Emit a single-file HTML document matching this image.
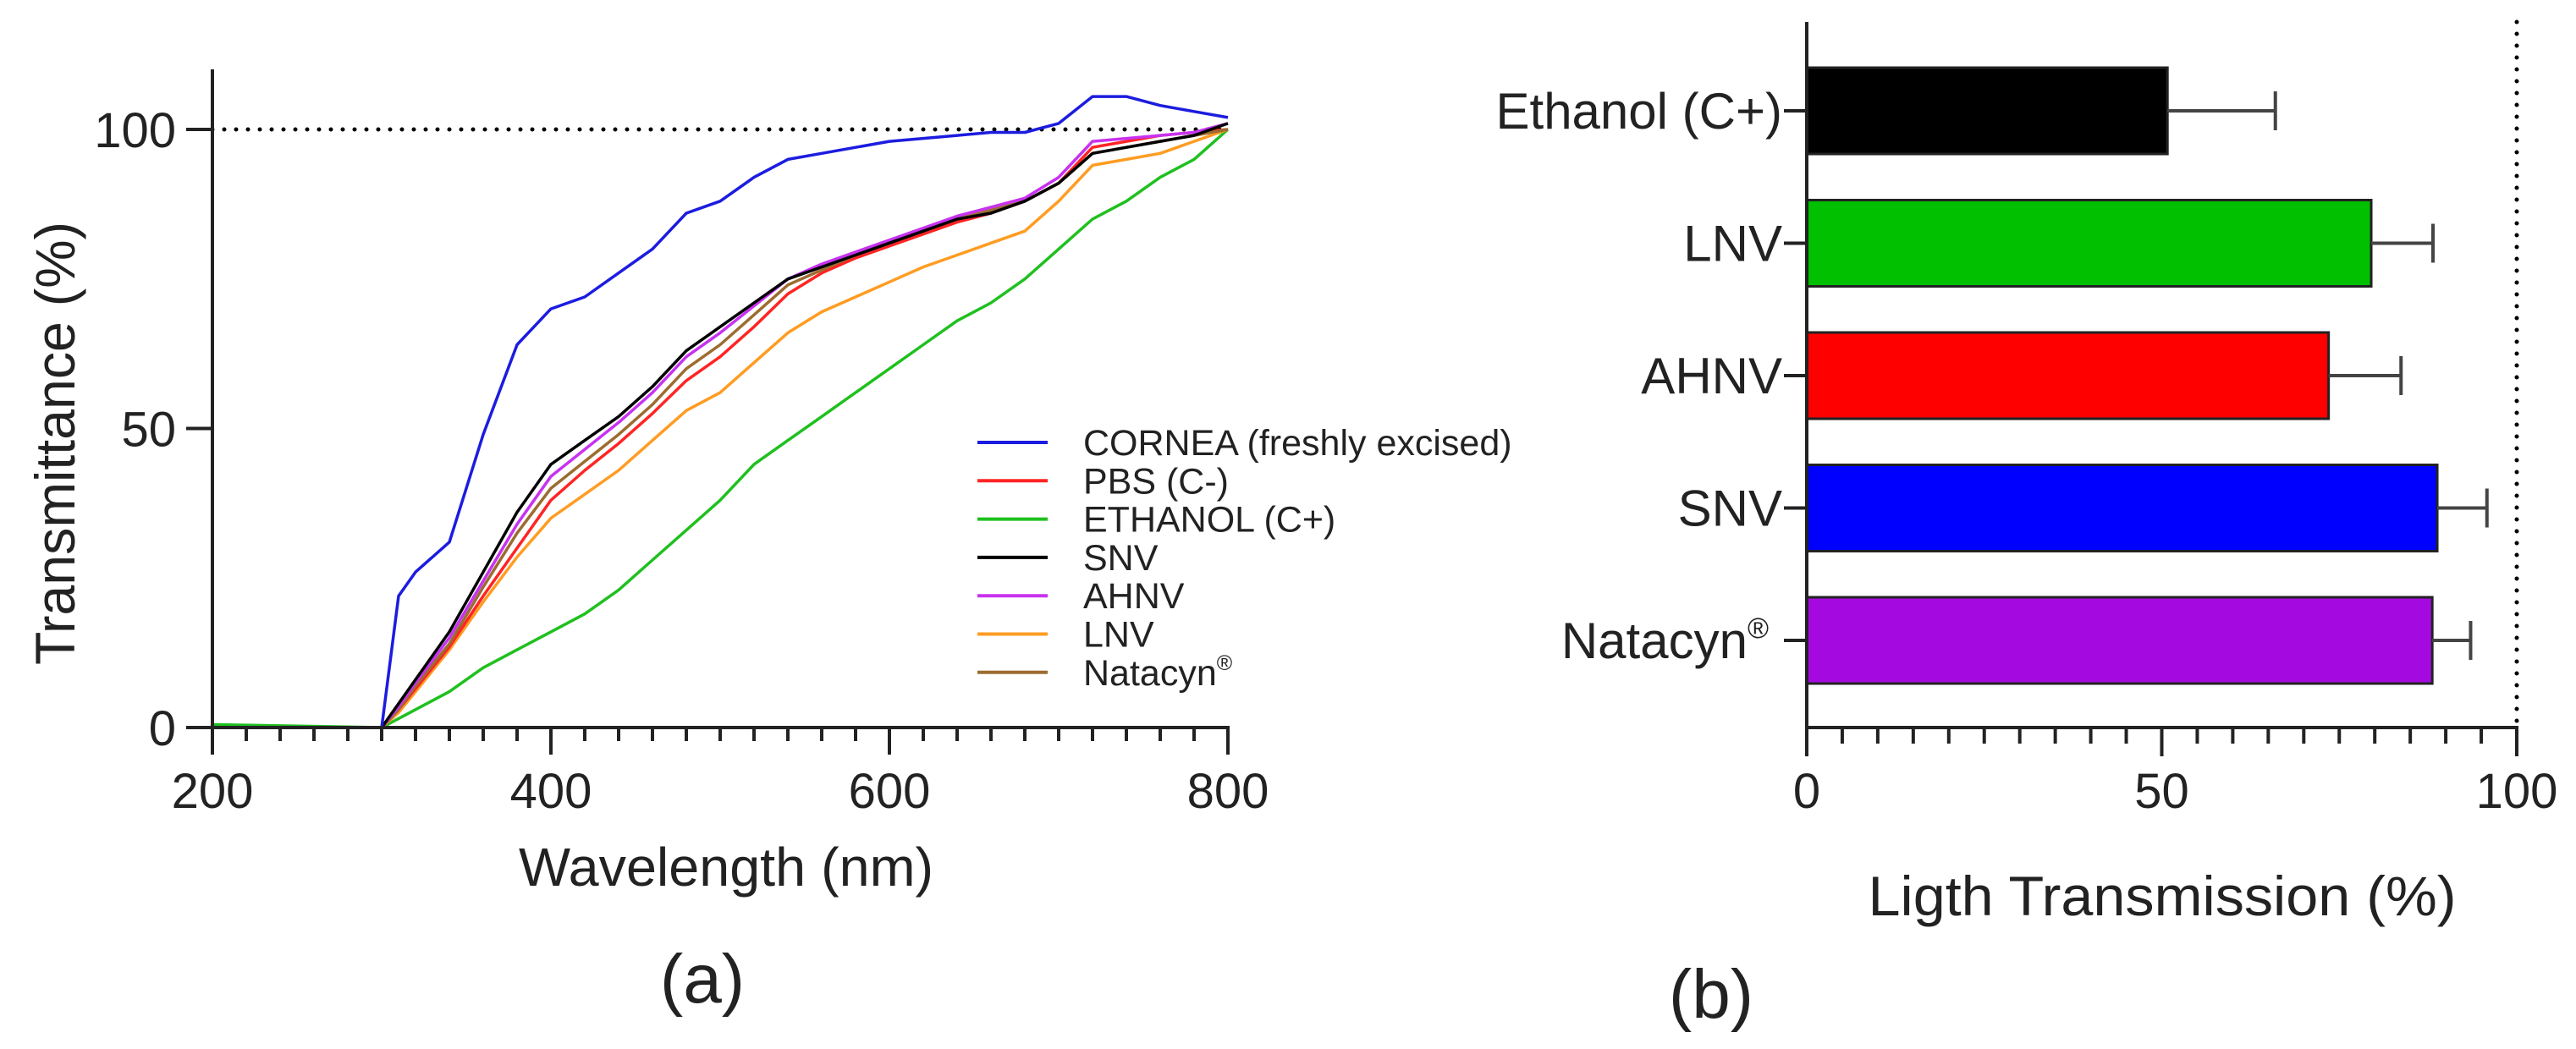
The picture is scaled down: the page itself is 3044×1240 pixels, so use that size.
<!DOCTYPE html>
<html><head><meta charset="utf-8"><style>
html,body{margin:0;padding:0;background:#fff;}
svg{display:block;font-family:"Liberation Sans",Arial,sans-serif;}
</style></head><body>
<svg id="fig" width="3044" height="1240" viewBox="0 0 3044 1240" xmlns="http://www.w3.org/2000/svg">
<g id="pa"></g>
<g id="pb"></g>
</svg>
<script>
// ---------- Panel (a) data ----------
const wavelengths = [200,300,310,320,340,360,380,400,420,440,460,480,500,520,540,560,580,600,620,640,660,680,700,720,740,760,780,800];
const seriesNames = ["CORNEA (freshly excised)","PBS (C-)","ETHANOL (C+)","SNV","AHNV","LNV","Natacyn"];
const corneaVals = [0,0,22,26,31,49,64,70,72,76,80,86,88,92,95,96,97,98,98.5,99,99.5,99.5,101,105.5,105.5,104,103,102];
const pbsVals    = [0,0,3,6.5,13.5,22,30,38,43,47.5,52.5,58,62,67,72.5,76,78.5,80.5,82.5,84.5,86,88,91,97,98,99,99.5,100];
const ethanolVals= [0.5,0,1.5,3,6,10,13,16,19,23,28,33,38,44,48,52,56,60,64,68,71,75,80,85,88,92,95,100];
const snvVals    = [0,0,4,8,16,26,36,44,48,52,57,63,67,71,75,77,79,81,83,85,86,88,91,96,97,98,99,101];
const ahnvVals   = [0,0,3.5,7.5,15,24.5,34,42,46.5,51,56,62,66,70.5,75,77.5,79.5,81.5,83.5,85.5,87,88.5,92,98,98.5,99,99.5,101];
const lnvVals    = [0,0,2.5,6,13,21,28.5,35,39,43,48,53,56,61,66,69.5,72,74.5,77,79,81,83,88,94,95,96,98,100];
const natacynVals= [0,0,3,7,14,23.5,32.5,40,44.5,49,54,60,64,69,74,76.5,79,81,83,85,86.5,88,91,96,97,98,99,100];
const xTickLabels = [200,400,600,800];
const yTickLabels = [0,50,100];
// ---------- Panel (b) data ----------
const barCategories = ["Ethanol (C+)","LNV","AHNV","SNV","Natacyn"];
const barMeans = [50.8,79.5,73.5,88.8,88.1];
const barErrors = [15.2,8.7,10.2,7.0,5.4];
const bTickLabels = [0,50,100];

const NS="http://www.w3.org/2000/svg";
function mk(parent,tag,attrs,text){const e=document.createElementNS(NS,tag);for(const k in attrs)e.setAttribute(k,attrs[k]);if(text!==undefined)e.textContent=text;parent.appendChild(e);return e;}

// ----- Panel a axes -----
const pa=document.getElementById('pa');
const ax=w=>251+(w-200)*2.0;
const ay=v=>860-v*7.07;
let e=mk(pa,'line',{x1:ax(200),x2:ax(800),y1:ay(100),y2:ay(100),stroke:'#000','stroke-width':5,'stroke-dasharray':'0 14','stroke-linecap':'round'});


const colors={"CORNEA (freshly excised)":"#1c1ce0","PBS (C-)":"#ff2424","ETHANOL (C+)":"#1fc01f","SNV":"#000000","AHNV":"#c832f0","LNV":"#ff9c22","Natacyn":"#9c6c30"};
const vals=[corneaVals,pbsVals,ethanolVals,snvVals,ahnvVals,lnvVals,natacynVals];
const drawOrder=[2,5,1,6,4,3,0];
drawOrder.forEach(i=>{
  const d=vals[i].map((v,j)=>(j?'L':'M')+ax(wavelengths[j]).toFixed(1)+' '+ay(v).toFixed(1)).join(' ');
  const p=mk(pa,'path',{d:d,fill:'none',stroke:colors[seriesNames[i]],'stroke-width':3.5,'stroke-linejoin':'round'});
  
  
});
e=mk(pa,'line',{x1:251,x2:251,y1:82,y2:892,stroke:'#222','stroke-width':4});


e=mk(pa,'line',{x1:220,x2:ax(800)+2,y1:860,y2:860,stroke:'#222','stroke-width':4});


for(let w=220;w<=800;w+=20){const big=(w%200===0);mk(pa,'line',{x1:ax(w),x2:ax(w),y1:860,y2:big?892:876,stroke:'#222','stroke-width':4});}
yTickLabels.forEach(v=>{
  mk(pa,'line',{x1:220,x2:251,y1:ay(v),y2:ay(v),stroke:'#222','stroke-width':4});
  const t=mk(pa,'text',{x:208,y:ay(v)+21,'text-anchor':'end','font-size':58,fill:'#222'},String(v));
  
  
});
xTickLabels.forEach(w=>{
  const t=mk(pa,'text',{x:ax(w),y:955,'text-anchor':'middle','font-size':58,fill:'#222'},String(w));
  
  
});
e=mk(pa,'text',{x:858,y:1047,'text-anchor':'middle','font-size':64,fill:'#222',textLength:490,lengthAdjust:'spacingAndGlyphs'},'Wavelength (nm)');


e=mk(pa,'text',{x:0,y:0,transform:'translate(88,524) rotate(-90)','text-anchor':'middle','font-size':66,fill:'#222',textLength:524,lengthAdjust:'spacingAndGlyphs'},'Transmittance (%)');


e=mk(pa,'text',{x:830,y:1185,'text-anchor':'middle','font-size':82,fill:'#222'},'(a)');


const lg=mk(pa,'g',{});


seriesNames.forEach((n,i)=>{
  const y=523+i*45.3;
  const g=mk(lg,'g',{});
  
  
  mk(g,'line',{x1:1155,x2:1238,y1:y,y2:y,stroke:colors[n],'stroke-width':4});
  const t=mk(g,'text',{x:1280,y:y+15,'font-size':43,fill:'#222'},n);
  if(n==='Natacyn'){mk(t,'tspan',{dy:-18,'font-size':25},'®');}
});

// ----- Panel b -----
const pb=document.getElementById('pb');
const bx=v=>2135+v*8.39;
const by=i=>131+i*156.5;
const barH=102;
const barColors=["#000000","#00c000","#ff0000","#0000ff","#a40ae0"];
e=mk(pb,'line',{x1:bx(100),x2:bx(100),y1:26,y2:860,stroke:'#000','stroke-width':5,'stroke-dasharray':'0 14','stroke-linecap':'round'});


barCategories.forEach((c,i)=>{
  const y=by(i);
  const r=mk(pb,'rect',{x:bx(0),y:y-barH/2,width:bx(barMeans[i])-bx(0),height:barH,fill:barColors[i],stroke:'#222','stroke-width':3});
  
  
  const eg=mk(pb,'g',{stroke:'#444','stroke-width':4});
  
  
  mk(eg,'line',{x1:bx(barMeans[i]),x2:bx(barMeans[i]+barErrors[i]),y1:y,y2:y});
  mk(eg,'line',{x1:bx(barMeans[i]+barErrors[i]),x2:bx(barMeans[i]+barErrors[i]),y1:y-23,y2:y+23});
  mk(pb,'line',{x1:2108,x2:2135,y1:y,y2:y,stroke:'#222','stroke-width':4});
  const t=mk(pb,'text',{x:2106,y:y+21,'text-anchor':'end','font-size':60,fill:'#222'},c);
  if(c==='Natacyn'){t.setAttribute('x',2090);mk(t,'tspan',{dy:-24,'font-size':34},'®');}
  
  
});
e=mk(pb,'line',{x1:2135,x2:2135,y1:26,y2:894,stroke:'#222','stroke-width':4});


e=mk(pb,'line',{x1:2133,x2:bx(100)+2,y1:860,y2:860,stroke:'#222','stroke-width':4});


for(let v=5;v<=100;v+=5){const big=(v%50===0);mk(pb,'line',{x1:bx(v),x2:bx(v),y1:860,y2:big?894:879,stroke:'#222','stroke-width':4});}
bTickLabels.forEach(v=>{
  const t=mk(pb,'text',{x:bx(v),y:955,'text-anchor':'middle','font-size':58,fill:'#222'},String(v));
  
  
});
e=mk(pb,'text',{x:2555,y:1082,'text-anchor':'middle','font-size':66,fill:'#222',textLength:695,lengthAdjust:'spacingAndGlyphs'},'Ligth Transmission (%)');


e=mk(pb,'text',{x:2022,y:1203,'text-anchor':'middle','font-size':82,fill:'#222'},'(b)');


</script>
</body></html>
